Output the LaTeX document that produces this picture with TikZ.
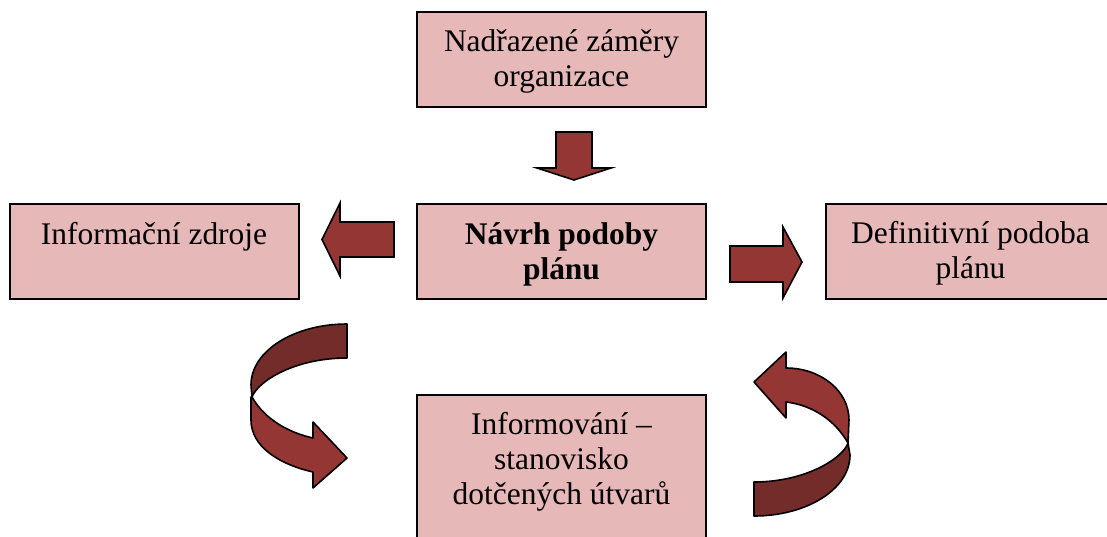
\documentclass[tikz,border=0pt]{standalone}
\usepackage{fontspec}
\setmainfont{Liberation Serif}
\usetikzlibrary{calc}
\definecolor{boxfill}{RGB}{230,185,184}
\definecolor{arrowfront}{RGB}{148,54,52}
\definecolor{arrowback}{RGB}{116,44,42}
\begin{document}
\begin{tikzpicture}[x=0.75pt,y=-0.75pt,
  box/.style={draw=black, line width=1.5pt, fill=boxfill, rectangle,
    minimum width=216.75pt, minimum height=71.25pt, inner sep=0pt},
  boxtext/.style={font=\fontsize{23.6}{26.25}\selectfont, align=center,
    inner sep=0pt, anchor=base},
  blockarrow/.style={draw=black, line width=1.2pt, fill=arrowfront},
  ribbonfront/.style={draw=black, line width=1.2pt, fill=arrowfront, line join=round},
  ribbonback/.style={draw=black, line width=1.2pt, fill=arrowback, line join=round}]
\useasboundingbox (0,0) rectangle (1107,536);
\clip (0,0) rectangle (1107,536);

% boxes
\node[box] (goals) at (561.5,59.5) {};
\node[box] (sources) at (154,251.5) {};
\node[box] (draft) at (561.5,251.5) {};
\node[box] (final) at (970.5,251.5) {};
\node[box, minimum height=112.5pt] (inform) at (561.5,470) {};

% box texts; the base anchor sits on the last line
\node[boxtext] (goalsT) at ($(goals.north)+(0,75)$) {Nadřazené záměry\\organizace};
\node[boxtext] (sourcesT) at ($(sources.north)+(0,41)$) {Informační zdroje};
\node[boxtext, font=\fontsize{23.6}{26.25}\selectfont\bfseries] (draftT) at ($(draft.north)+(0,76)$) {Návrh podoby\\plánu};
\node[boxtext] (finalT) at ($(final.north)+(0,75)$) {Definitivní podoba\\plánu};
\node[boxtext] (informT) at ($(inform.north)+(0,110)$) {Informování –\\stanovisko\\dotčených útvarů};

% straight block arrows
\path[blockarrow] (556,132) -- (592,132) -- (592,168) -- (611,168) -- (574,180) -- (537,168) -- (556,168) -- cycle;
\path[blockarrow] (394,222) -- (394,257) -- (340,257) -- (340,276) -- (322,239.5) -- (340,203) -- (340,222) -- cycle;
\path[blockarrow] (730,246) -- (783,246) -- (783,227) -- (802,262) -- (783,298) -- (783,282) -- (730,282) -- cycle;

% curved ribbon arrow on the left
\path[ribbonfront] (252,397) .. controls (265,420) and (290,433) .. (313,438)
  -- (313,422) -- (347,458) -- (313,488) -- (313,472)
  .. controls (278,464) and (251,446) .. (251,420) -- (251,397) -- cycle;
\path[ribbonback] (347,324) .. controls (294,324) and (251,351) .. (251,385)
  -- (252,397) .. controls (258,381) and (295,358) .. (347,358) -- cycle;

% curved ribbon arrow on the right
\path[ribbonfront] (786,368) .. controls (821,368) and (849,391) .. (849,420)
  -- (848,443) .. controls (835,420) and (812,405) .. (786,402)
  -- (786,418) -- (754,382) -- (786,352) -- cycle;
\path[ribbonback] (848,443) .. controls (843,458) and (806,482) .. (754,482)
  -- (754,516) .. controls (807,516) and (850,489) .. (850,455) -- cycle;
\end{tikzpicture}
\end{document}
